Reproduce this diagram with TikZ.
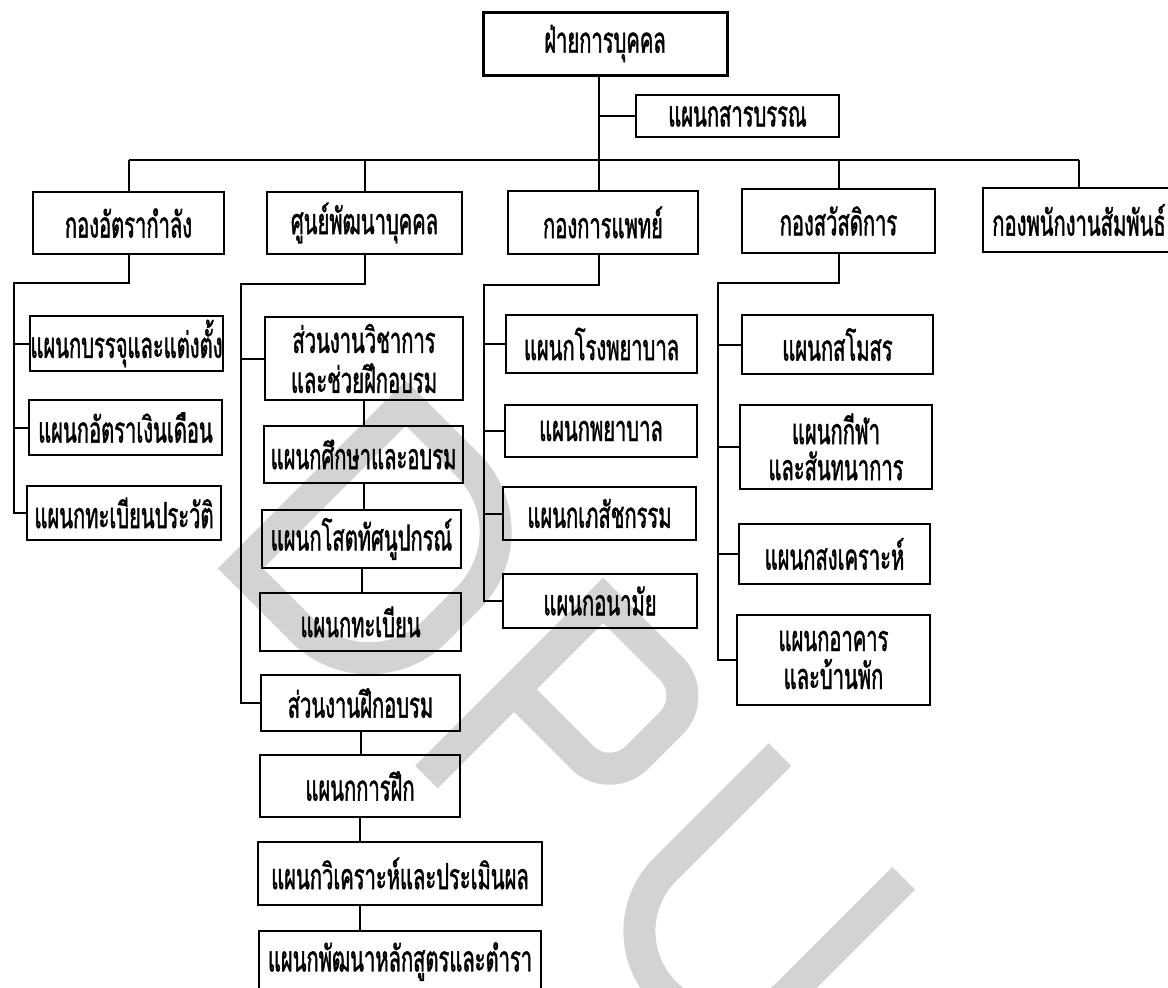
\documentclass[tikz,border=0pt]{standalone}
\usepackage{fontspec}
\newfontfamily\thaifont[Script=Thai, FakeStretch=0.56, FakeBold=1.2]{Loma}
\definecolor{wmgray}{RGB}{211,211,211}
\begin{document}
\begin{tikzpicture}[x=1bp, y=-1bp,
  box/.style={draw, line width=2.5bp, inner sep=0pt, align=center,
    font=\thaifont\fontsize{36bp}{42bp}\selectfont},
  link/.style={line width=2bp},
  wm/.style={draw=wmgray, line width=32bp, line cap=butt, line join=miter}]
\useasboundingbox (0,0) rectangle (1168,988);
\clip (0,0) rectangle (1168,988);

% watermark letters D P U, set along a diagonal baseline
\begin{scope}[x=1bp, y=1bp, rotate=-45]
  \draw[wm] (572,-232) -- (572,2) -- (660,2) arc[start angle=90, end angle=0, radius=94]
    -- (754,-138) arc[start angle=0, end angle=-90, radius=94] -- cycle;
  \draw[wm] (851,-248) -- (851,2) -- (947,2) arc[start angle=90, end angle=0, radius=39]
    -- (986,-85) arc[start angle=0, end angle=-90, radius=39] -- (851,-124);
  \draw[wm] (1085,18) -- (1085,-144.5) arc[start angle=180, end angle=360, radius=87.5] -- (1260,18);
\end{scope}

% head office
\node[box, line width=3bp, minimum width=244bp, minimum height=63bp] (top) at (605,43.5) {ฝ่ายการบุคคล};
\node[box, minimum width=203bp, minimum height=42bp] (sar) at (737.5,116) {แผนกสารบรรณ};

% divisions
\node[box, minimum width=191bp, minimum height=62bp] (c1) at (128.5,223) {กองอัตรากำลัง};
\node[box, minimum width=195bp, minimum height=62bp] (c2) at (364.5,223) {ศูนย์พัฒนาบุคคล};
\node[box, minimum width=190bp, minimum height=63bp] (c3) at (603,222.5) {กองการแพทย์};
\node[box, minimum width=193bp, minimum height=64bp] (c4) at (838.5,221) {กองสวัสดิการ};
\node[box, minimum width=192bp, minimum height=64bp] (c5) at (1079,220) {กองพนักงานสัมพันธ์};

% sections of กองอัตรากำลัง
\node[box, minimum width=193bp, minimum height=55bp] (a1) at (126.5,343.5) {แผนกบรรจุและแต่งตั้ง};
\node[box, minimum width=193bp, minimum height=55bp] (a2) at (125.5,427.5) {แผนกอัตราเงินเดือน};
\node[box, minimum width=194bp, minimum height=54bp] (a3) at (124,513) {แผนกทะเบียนประวัติ};

% sections of ศูนย์พัฒนาบุคคล
\node[box, minimum width=198bp, minimum height=83bp] (b1) at (364,358.5) {ส่วนงานวิชาการ\\[-2bp]และช่วยฝึกอบรม};
\node[box, minimum width=199bp, minimum height=57bp] (b2) at (363.5,454.5) {แผนกศึกษาและอบรม};
\node[box, minimum width=199bp, minimum height=58bp] (b3) at (361.5,539) {แผนกโสตทัศนูปกรณ์};
\node[box, minimum width=201bp, minimum height=58bp] (b4) at (360.5,622) {แผนกทะเบียน};
\node[box, minimum width=199bp, minimum height=56bp] (b5) at (360.5,703) {ส่วนงานฝึกอบรม};
\node[box, minimum width=200bp, minimum height=62bp] (b6) at (360,786) {แผนกการฝึก};
\node[box, minimum width=284bp, minimum height=63bp] (b7) at (400,873.5) {แผนกวิเคราะห์และประเมินผล};
\node[box, minimum width=282bp, minimum height=61bp] (b8) at (400,961.5) {แผนกพัฒนาหลักสูตรและตำรา};

% sections of กองการแพทย์
\node[box, minimum width=191bp, minimum height=58bp] (m1) at (601.5,344) {แผนกโรงพยาบาล};
\node[box, minimum width=192bp, minimum height=52bp] (m2) at (601,431) {แผนกพยาบาล};
\node[box, minimum width=193bp, minimum height=53bp] (m3) at (599.5,513.5) {แผนกเภสัชกรรม};
\node[box, minimum width=194bp, minimum height=54bp] (m4) at (600,601) {แผนกอนามัย};

% sections of กองสวัสดิการ
\node[box, minimum width=191bp, minimum height=59bp] (w1) at (837.5,344.5) {แผนกสโมสร};
\node[box, minimum width=192bp, minimum height=84bp] (w2) at (836,447) {แผนกกีฬา\\[-6bp]และสันทนาการ};
\node[box, minimum width=191bp, minimum height=60bp] (w3) at (834.5,554) {แผนกสงเคราะห์};
\node[box, minimum width=193bp, minimum height=90bp] (w4) at (833.5,660) {แผนกอาคาร\\[-4bp]และบ้านพัก};

% trunk and main bus
\coordinate (trunk) at (599,160);
\draw[link] (top.south -| trunk) -- (c3.north -| trunk);
\draw[link] (sar.west -| trunk) -- (sar.west);
\draw[link] (c1.north |- trunk) -- (c5.north |- trunk);
\foreach \n in {c1,c2,c4,c5} \draw[link] (\n.north |- trunk) -- (\n.north);

% branch rails
\coordinate (r1) at (14,283);
\coordinate (r2) at (241,284);
\coordinate (r3) at (484,285);
\coordinate (r4) at (718,283);

\draw[link] (c1.south) |- (r1) -- (r1 |- a3.west) -- (a3.west);
\foreach \n in {a1,a2} \draw[link] (r1 |- \n.west) -- (\n.west);

\draw[link] (c2.south) |- (r2) -- (r2 |- b5.west) -- (b5.west);
\draw[link] (r2 |- b1.west) -- (b1.west);
\draw[link] (b1.south) -- (b1.south |- b2.north);
\draw[link] (b2.south) -- (b2.south |- b3.north);
\draw[link] (b3.south) -- (b3.south |- b4.north);
\draw[link] (b5.south) -- (b5.south |- b6.north);
\draw[link] (b6.south) -- (b6.south |- b7.north);
\draw[link] (b6.south |- b7.south) -- (b6.south |- b8.north);

\draw[link] (c3.south -| trunk) |- (r3) -- (r3 |- m4.west) -- (m4.west);
\foreach \n in {m1,m2,m3} \draw[link] (r3 |- \n.west) -- (\n.west);

\draw[link] (c4.south) |- (r4) -- (r4 |- w4.west) -- (w4.west);
\foreach \n in {w1,w2,w3} \draw[link] (r4 |- \n.west) -- (\n.west);
\end{tikzpicture}
\end{document}
